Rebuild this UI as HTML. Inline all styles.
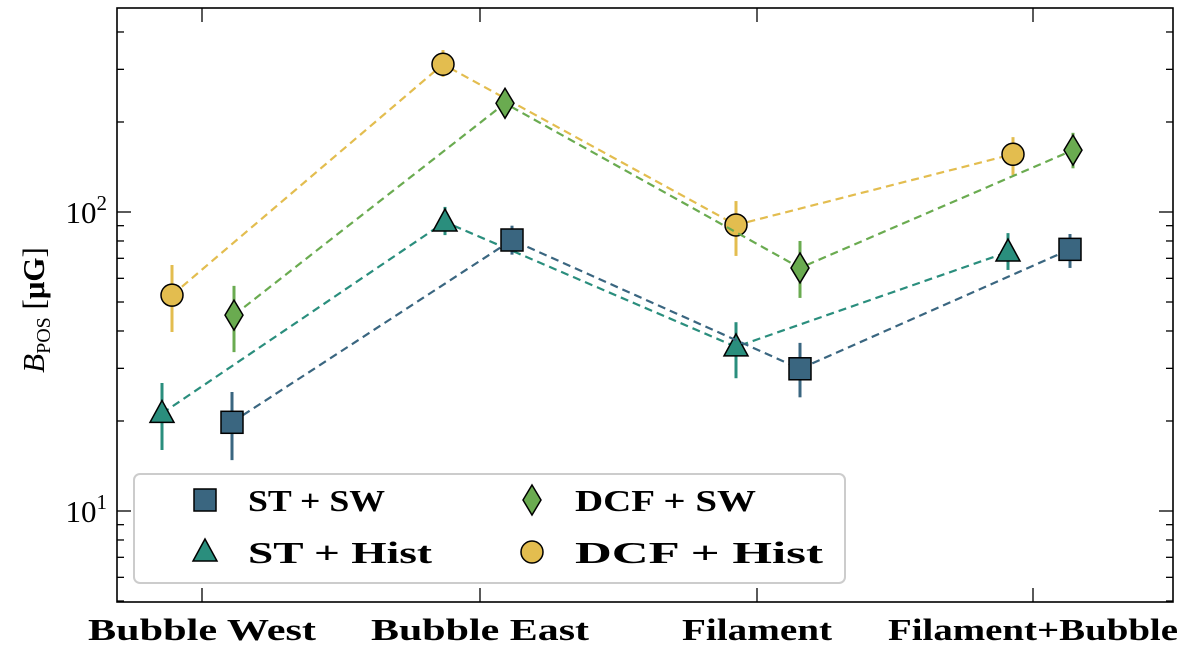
<!DOCTYPE html>
<html><head><meta charset="utf-8"><style>
body{margin:0;background:#fff;}
svg text{font-family:"Liberation Serif",serif;}
</style></head><body>
<svg id="chart" width="1200" height="647" xmlns="http://www.w3.org/2000/svg"></svg>
<script>
const categories=["Bubble West","Bubble East","Filament","Filament+Bubble"];
const stSW=[19.8,80.6,29.9,75];
const stSWlo=[14.8,72,24,65];
const stSWhi=[25,90,36.5,84.4];
const stHist=[21.2,92.6,35.4,73.5];
const stHistlo=[16,83.7,27.8,64];
const stHisthi=[26.8,104,42.8,85];
const dcfSW=[45.2,231,65,161];
const dcfSWlo=[34,214,51.6,140];
const dcfSWhi=[56.6,252,80,184];
const dcfHist=[52.7,312,90.5,156];
const dcfHistlo=[39.7,283,71.3,133];
const dcfHisthi=[66.5,348,108.8,178];
const yTicks=[10,100];

const NS="http://www.w3.org/2000/svg";
const svg=document.getElementById('chart');
const L=117,R=1173,T=8,B=602;
const xc=[202,480,757,1033];
const labelW=[228,218,150,290];
const X=(i,off)=>xc[i]+off;
const Y=v=>212-(Math.log10(v)-2)*299;
function el(tag,attrs,parent){const e=document.createElementNS(NS,tag);for(const k in attrs)e.setAttribute(k,attrs[k]);(parent||svg).appendChild(e);return e;}

const frame=el('rect',{x:L,y:T,width:R-L,height:B-T,fill:'none',stroke:'#000','stroke-width':1.6});


for(let d=0;d<=3;d++){for(let m=1;m<10;m++){const v=m*Math.pow(10,d);const y=Y(v);if(y<T||y>B)continue;const len=m===1?14:7;
 const t1=el('line',{x1:L,x2:L+len,y1:y,y2:y,stroke:'#000','stroke-width':1.3});
 const t2=el('line',{x1:R,x2:R-len,y1:y,y2:y,stroke:'#000','stroke-width':1.3});}}
yTicks.forEach(v=>{const y=Y(v);const g=el('text',{x:L-10,y:y+11,'text-anchor':'end','font-size':31});
 
 g.innerHTML='10<tspan dy="-13" font-size="21">'+Math.round(Math.log10(v))+'</tspan>';});
categories.forEach((c,i)=>{
 const t=el('line',{x1:xc[i],x2:xc[i],y1:B,y2:B-14,stroke:'#000','stroke-width':1.3});
 const t2=el('line',{x1:xc[i],x2:xc[i],y1:T,y2:T+14,stroke:'#000','stroke-width':1.3});
 const tx=el('text',{x:xc[i]-labelW[i]/2,y:640,'font-size':31,'font-weight':'bold',textLength:labelW[i],lengthAdjust:'spacingAndGlyphs'});tx.textContent=c;
 });
const yl=el('text',{transform:'translate(44,310) rotate(-90)','text-anchor':'middle','font-size':31});

yl.innerHTML='<tspan font-style="italic">B</tspan><tspan font-size="20" dy="6">POS</tspan><tspan dy="-6"> [</tspan><tspan font-weight="bold">μG</tspan>]';

function marker(shape,x,y,color,parent,s){
 s=s||1;let m;
 if(shape==='sq')m=el('rect',{x:x-11*s,y:y-11*s,width:22*s,height:22*s},parent);
 else if(shape==='tri')m=el('polygon',{points:`${x},${y-13*s} ${x+12*s},${y+9*s} ${x-12*s},${y+9*s}`},parent);
 else if(shape==='dia')m=el('polygon',{points:`${x},${y-15*s} ${x+9*s},${y} ${x},${y+15*s} ${x-9*s},${y}`},parent);
 else m=el('circle',{cx:x,cy:y,r:11*s},parent);
 m.setAttribute('fill',color);m.setAttribute('stroke','#000');m.setAttribute('stroke-width',1.5);return m;}

const series=[
 {name:'dcf-hist',vals:dcfHist,lo:dcfHistlo,hi:dcfHisthi,color:'#e3bd4f',shape:'ci'},
 {name:'dcf-sw',vals:dcfSW,lo:dcfSWlo,hi:dcfSWhi,color:'#6aab50',shape:'dia'},
 {name:'st-hist',vals:stHist,lo:stHistlo,hi:stHisthi,color:'#2a8e7d',shape:'tri'},
 {name:'st-sw',vals:stSW,lo:stSWlo,hi:stSWhi,color:'#3a6680',shape:'sq'}];
const offs={'dcf-hist':[-30,-37,-21,-20],'dcf-sw':[32,25,43,40],'st-hist':[-40,-35,-21,-25],'st-sw':[30,32,43,37]};
series.forEach(s=>{
 const g=el('g',{});
 const pts=s.vals.map((v,i)=>[X(i,offs[s.name][i]),Y(v)]);
 const ln=el('polyline',{points:pts.map(p=>p.join(',')).join(' '),fill:'none',stroke:s.color,'stroke-width':2.2,'stroke-dasharray':'8,5'},g);
 
 s.vals.forEach((v,i)=>{const x=pts[i][0];
  const eb=el('line',{x1:x,x2:x,y1:Y(s.lo[i]),y2:Y(s.hi[i]),stroke:s.color,'stroke-width':3},g);
  });
 s.vals.forEach((v,i)=>{const m=marker(s.shape,pts[i][0],pts[i][1],s.color,g);
  });
});
const lg=el('g',{});
el('rect',{x:134,y:474,width:711,height:109,rx:6,fill:'#fff','fill-opacity':0.85,stroke:'#ccc','stroke-width':2},lg);
const entries=[['sq','#3a6680','ST + SW',205,500,137],['tri','#2a8e7d','ST + Hist',205,552,184],['dia','#6aab50','DCF + SW',532,500,181],['ci','#e3bd4f','DCF + Hist',532,552,248]];
entries.forEach(e=>{const g=el('g',{},lg);
 marker(e[0],e[3],e[4],e[1],g);
 const t=el('text',{x:e[3]+43,y:e[4]+11,'font-size':31,'font-weight':'bold',textLength:e[5],lengthAdjust:'spacingAndGlyphs'},g);t.textContent=e[2];});
</script>
</body></html>
